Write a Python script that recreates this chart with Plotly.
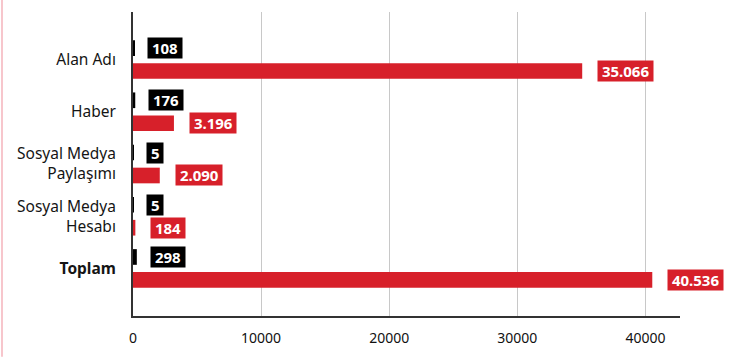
import plotly.graph_objects as go

categories = ["Alan Adı", "Haber", "Sosyal Medya<br>Paylaşımı", "Sosyal Medya<br>Hesabı", "<b>Toplam</b>"]
black_values = [108, 176, 5, 5, 298]
red_values = [35066, 3196, 2090, 184, 40536]
black_labels = ["108", "176", "5", "5", "298"]
red_labels = ["35.066", "3.196", "2.090", "184", "40.536"]
x_ticks = [0, 10000, 20000, 30000, 40000]

RED = "#d7202a"
BLACK = "#000000"
FONT = "Noto Sans"
PAD = "&nbsp;"

fig = go.Figure()
fig.add_trace(go.Bar(y=categories, x=black_values, orientation="h", marker=dict(color=BLACK, line=dict(width=0)),
                     width=0.3, offset=-0.37, showlegend=False, hoverinfo="skip"))
fig.add_trace(go.Bar(y=categories, x=red_values, orientation="h", marker=dict(color=RED, line=dict(width=0)),
                     width=0.3, offset=0.07, showlegend=False, hoverinfo="skip"))

annotations = []
for i, cat in enumerate(categories):
    annotations.append(dict(x=black_values[i], y=i - 0.22, xref="x", yref="y",
                            text=PAD + "<b>" + black_labels[i] + "</b>" + PAD,
                            showarrow=False, xanchor="left", yanchor="middle", xshift=13,
                            bgcolor=BLACK, font=dict(color="white", size=15, family=FONT), borderpad=0))
    annotations.append(dict(x=red_values[i], y=i + 0.22, xref="x", yref="y",
                            text=PAD + "<b>" + red_labels[i] + "</b>" + PAD,
                            showarrow=False, xanchor="left", yanchor="middle", xshift=15,
                            bgcolor=RED, font=dict(color="white", size=15, family=FONT), borderpad=0))

fig.update_layout(
    width=749, height=359,
    margin=dict(l=133, r=69, t=12, b=41),
    paper_bgcolor="white", plot_bgcolor="white",
    font=dict(family=FONT, color="#222222", size=14),
    annotations=annotations,
    shapes=[dict(type="line", xref="paper", yref="paper", x0=-131/547, x1=-131/547, y0=-41/306, y1=1 + 12/306,
                 line=dict(color="#f7c6cc", width=2))],
)
fig.update_xaxes(range=[0, 42700], tickvals=x_ticks, ticktext=[str(v) for v in x_ticks],
                 showgrid=True, gridcolor="#c8c8c8", gridwidth=1, zeroline=False,
                 showline=True, linecolor="#333333", linewidth=2,
                 tickfont=dict(size=14, color="#111111", family=FONT), ticks="", ticklabelstandoff=8)
fig.update_yaxes(type="category", range=[4.91, -0.91], showgrid=False, zeroline=False,
                 showline=True, linecolor="#333333", linewidth=2, ticks="",
                 tickfont=dict(size=15.5, color="#151515", family=FONT), ticklabelstandoff=12)

fig.write_html("out.html")
